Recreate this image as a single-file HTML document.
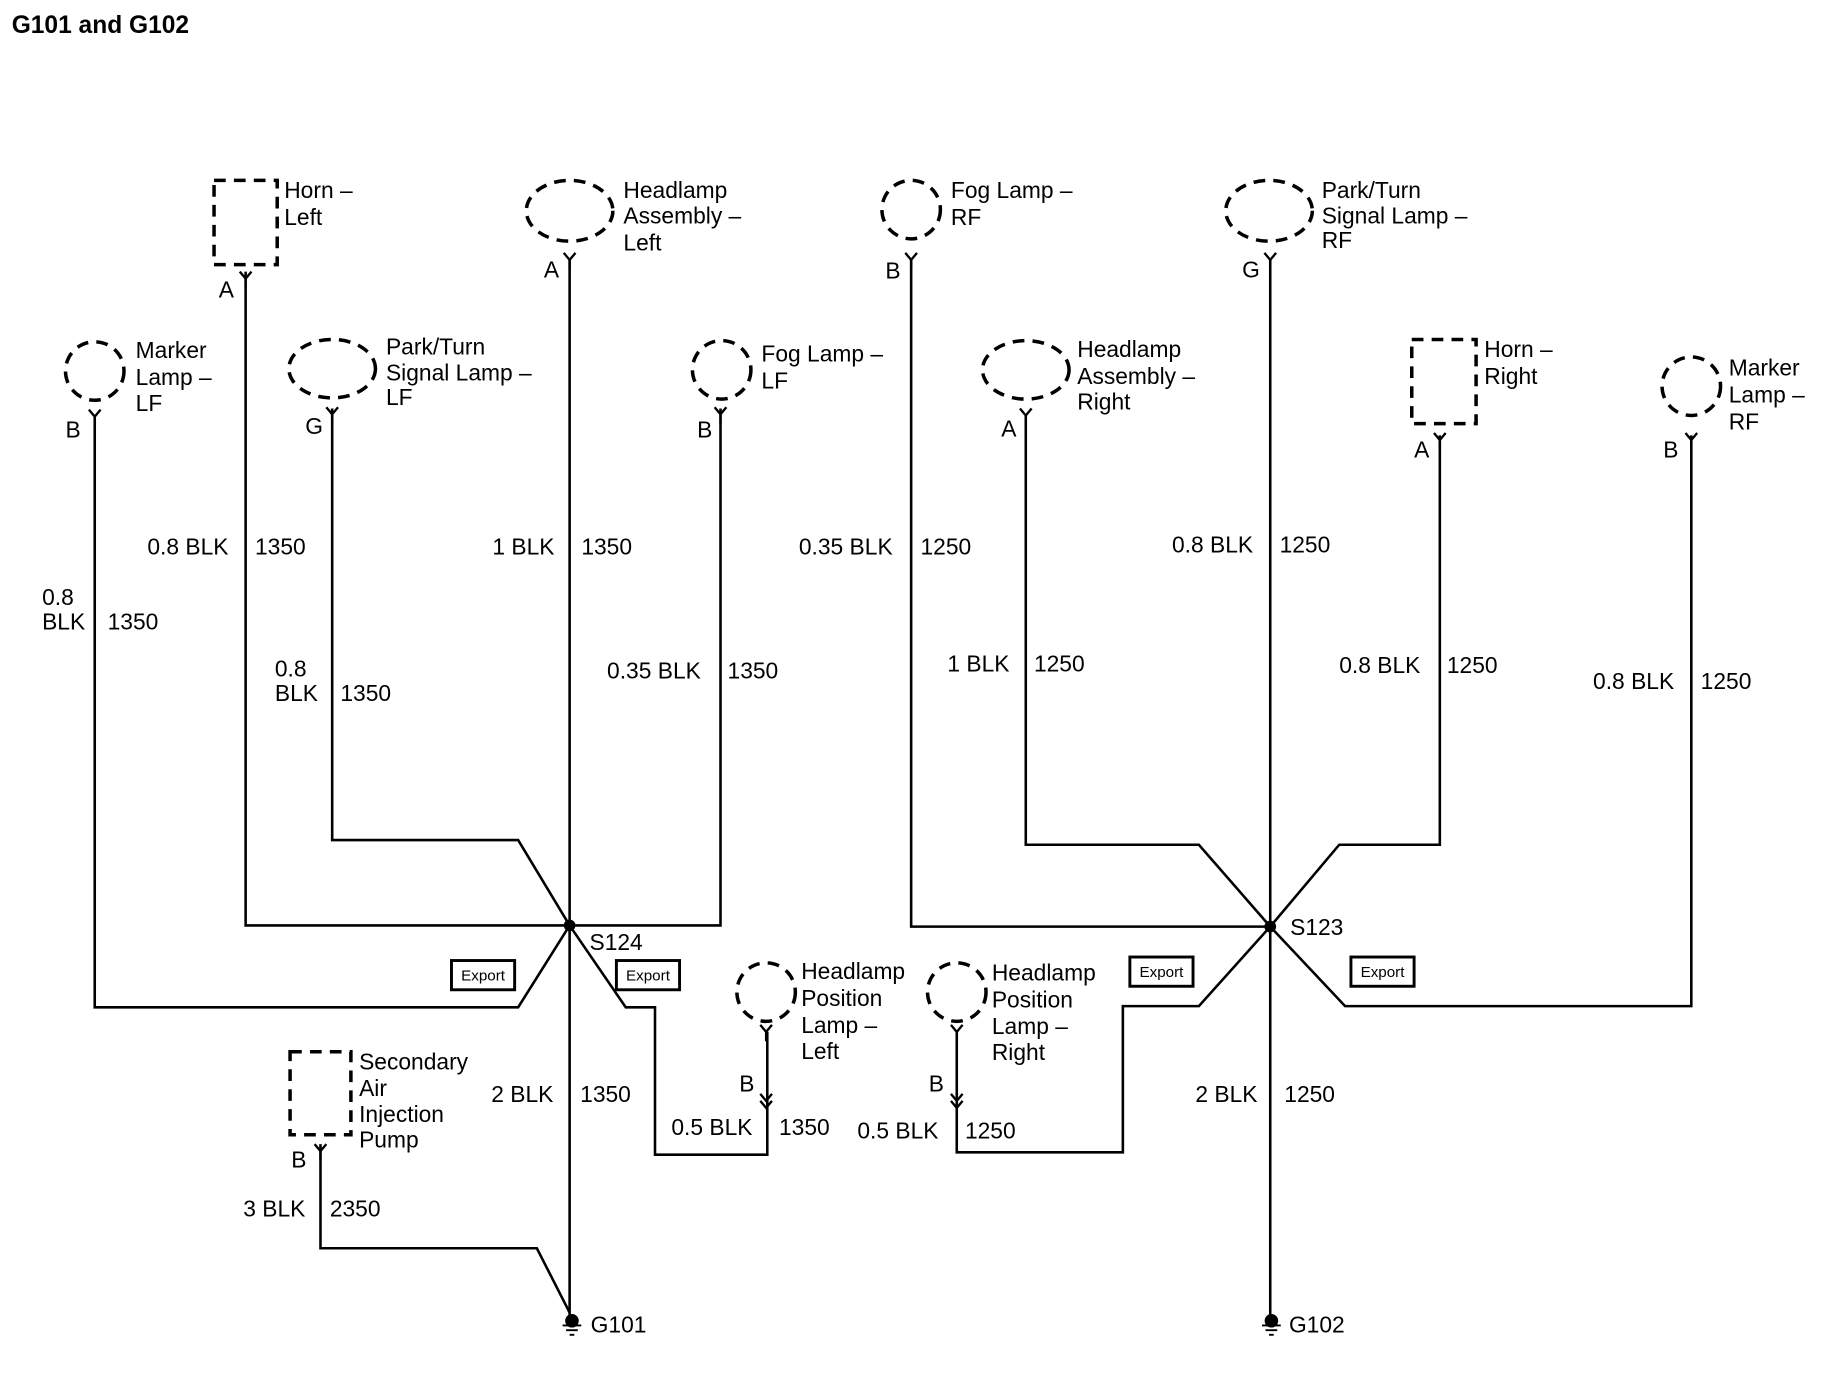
<!DOCTYPE html>
<html><head><meta charset="utf-8"><style>
html,body{margin:0;padding:0;background:#fff;}
svg{display:block}
text{font-family:"Liberation Sans",Arial,sans-serif;font-size:19.5px;fill:#000;}
text.ex{font-size:13px;text-anchor:middle}
text.t{font-weight:bold;font-size:21px}
</style></head><body>
<svg width="1834" height="1376" viewBox="0 0 1568 1176" xmlns="http://www.w3.org/2000/svg">
<defs>
<g id="y"><path d="M-5,-6 L0,0 L5,-6 M0,0 L0,8" fill="none" stroke="#000" stroke-width="2"/></g>
</defs>
<text class="t" x="10" y="28">G101 and G102</text>
<g fill="none" stroke="#000" stroke-width="2.2">
<path d="M487,222 V1125"/>
<path d="M210,232 V791 H616 V349"/>
<path d="M81,356 V861 H443 L487,791"/>
<path d="M284,349 V718 H443 L487,791"/>
<path d="M487,791 L535,861 H560 V987 H656 V882"/>
<path d="M274,978 V1067 H459 L487,1122"/>
<path d="M1086,222 V1125"/>
<path d="M779,222 V792 H1086"/>
<path d="M877,355 V722 H1025 L1086,792 L1145,722 H1231 V372"/>
<path d="M1446,372 V860 H1150 L1086,792"/>
<path d="M1086,792 L1025,860 H960 V985 H818 V882"/>
</g>
<g fill="none" stroke="#000" stroke-width="3" stroke-dasharray="10,7">
<rect x="183" y="154" width="54" height="72"/>
<ellipse cx="487" cy="180" rx="37" ry="26"/>
<circle cx="779" cy="179" r="25"/>
<ellipse cx="1085" cy="180" rx="37" ry="26"/>
<circle cx="81" cy="317" r="25"/>
<ellipse cx="284" cy="315" rx="37" ry="25"/>
<circle cx="617" cy="316" r="25"/>
<ellipse cx="877" cy="316" rx="37" ry="25"/>
<rect x="1207" y="290" width="55" height="72"/>
<circle cx="1446" cy="330" r="25"/>
<circle cx="655" cy="848" r="25"/>
<circle cx="818" cy="848" r="25"/>
<rect x="248" y="899" width="52" height="71"/>
</g>
<use href="#y" x="210" y="238"/>
<use href="#y" x="487" y="222"/>
<use href="#y" x="779" y="222"/>
<use href="#y" x="1086" y="222"/>
<use href="#y" x="81" y="356"/>
<use href="#y" x="284" y="354"/>
<use href="#y" x="616" y="354"/>
<use href="#y" x="877" y="355"/>
<use href="#y" x="1231" y="376"/>
<use href="#y" x="1446" y="376"/>
<use href="#y" x="274" y="984"/>
<use href="#y" x="655" y="882"/>
<use href="#y" x="818" y="882"/>
<g fill="none" stroke="#000" stroke-width="2"><path d="M650,935 L655,941 L660,935 M650,941 L655,947 L660,941"/><path d="M813,935 L818,941 L823,935 M813,941 L818,947 L823,941"/></g>
<circle cx="487" cy="791" r="5"/>
<circle cx="1086" cy="792" r="5"/>
<g stroke="#000" stroke-width="1.6">
<circle cx="489" cy="1129" r="5"/><path d="M481,1133 H497 M484,1137 H494 M487,1141 H491"/>
<circle cx="1087" cy="1129" r="5"/><path d="M1079,1133 H1095 M1082,1137 H1092 M1085,1141 H1089"/>
</g>
<g fill="none" stroke="#000" stroke-width="2.5">
<rect x="386" y="821" width="54" height="25"/><rect x="527" y="821" width="54" height="25"/>
<rect x="966" y="818" width="54" height="25"/><rect x="1155" y="818" width="54" height="25"/>
</g>
<text class="ex" x="413" y="838">Export</text><text class="ex" x="554" y="838">Export</text>
<text class="ex" x="993" y="835">Export</text><text class="ex" x="1182" y="835">Export</text>
<text x="243" y="169">Horn –</text><text x="243" y="192">Left</text>
<text x="533" y="169">Headlamp</text><text x="533" y="191">Assembly –</text><text x="533" y="214">Left</text>
<text x="813" y="169">Fog Lamp –</text><text x="813" y="192">RF</text>
<text x="1130" y="169">Park/Turn</text><text x="1130" y="191">Signal Lamp –</text><text x="1130" y="212">RF</text>
<text x="116" y="306">Marker</text><text x="116" y="329">Lamp –</text><text x="116" y="351">LF</text>
<text x="330" y="303">Park/Turn</text><text x="330" y="325">Signal Lamp –</text><text x="330" y="346">LF</text>
<text x="651" y="309">Fog Lamp –</text><text x="651" y="332">LF</text>
<text x="921" y="305">Headlamp</text><text x="921" y="328">Assembly –</text><text x="921" y="350">Right</text>
<text x="1269" y="305">Horn –</text><text x="1269" y="328">Right</text>
<text x="1478" y="321">Marker</text><text x="1478" y="344">Lamp –</text><text x="1478" y="367">RF</text>
<text x="685" y="837">Headlamp</text><text x="685" y="860">Position</text><text x="685" y="883">Lamp –</text><text x="685" y="905">Left</text>
<text x="848" y="838">Headlamp</text><text x="848" y="861">Position</text><text x="848" y="884">Lamp –</text><text x="848" y="906">Right</text>
<text x="307" y="914">Secondary</text><text x="307" y="937">Air</text><text x="307" y="959">Injection</text><text x="307" y="981">Pump</text>
<text x="187" y="254">A</text><text x="465" y="237">A</text><text x="757" y="238">B</text><text x="1062" y="237">G</text>
<text x="56" y="374">B</text><text x="261" y="371">G</text><text x="596" y="374">B</text><text x="856" y="373">A</text>
<text x="1209" y="391">A</text><text x="1422" y="391">B</text><text x="249" y="998">B</text>
<text x="632" y="933">B</text><text x="794" y="933">B</text>
<text x="504" y="812">S124</text><text x="1103" y="799">S123</text>
<text x="505" y="1139">G101</text><text x="1102" y="1139">G102</text>
<text x="126" y="474">0.8 BLK</text><text x="218" y="474">1350</text>
<text x="421" y="474">1 BLK</text><text x="497" y="474">1350</text>
<text x="683" y="474">0.35 BLK</text><text x="787" y="474">1250</text>
<text x="1002" y="472">0.8 BLK</text><text x="1094" y="472">1250</text>
<text x="36" y="517">0.8</text><text x="36" y="538">BLK</text><text x="92" y="538">1350</text>
<text x="235" y="578">0.8</text><text x="235" y="599">BLK</text><text x="291" y="599">1350</text>
<text x="519" y="580">0.35 BLK</text><text x="622" y="580">1350</text>
<text x="810" y="574">1 BLK</text><text x="884" y="574">1250</text>
<text x="1145" y="575">0.8 BLK</text><text x="1237" y="575">1250</text>
<text x="1362" y="589">0.8 BLK</text><text x="1454" y="589">1250</text>
<text x="420" y="942">2 BLK</text><text x="496" y="942">1350</text>
<text x="574" y="970">0.5 BLK</text><text x="666" y="970">1350</text>
<text x="733" y="973">0.5 BLK</text><text x="825" y="973">1250</text>
<text x="1022" y="942">2 BLK</text><text x="1098" y="942">1250</text>
<text x="208" y="1040">3 BLK</text><text x="282" y="1040">2350</text>
</svg>
</body></html>
